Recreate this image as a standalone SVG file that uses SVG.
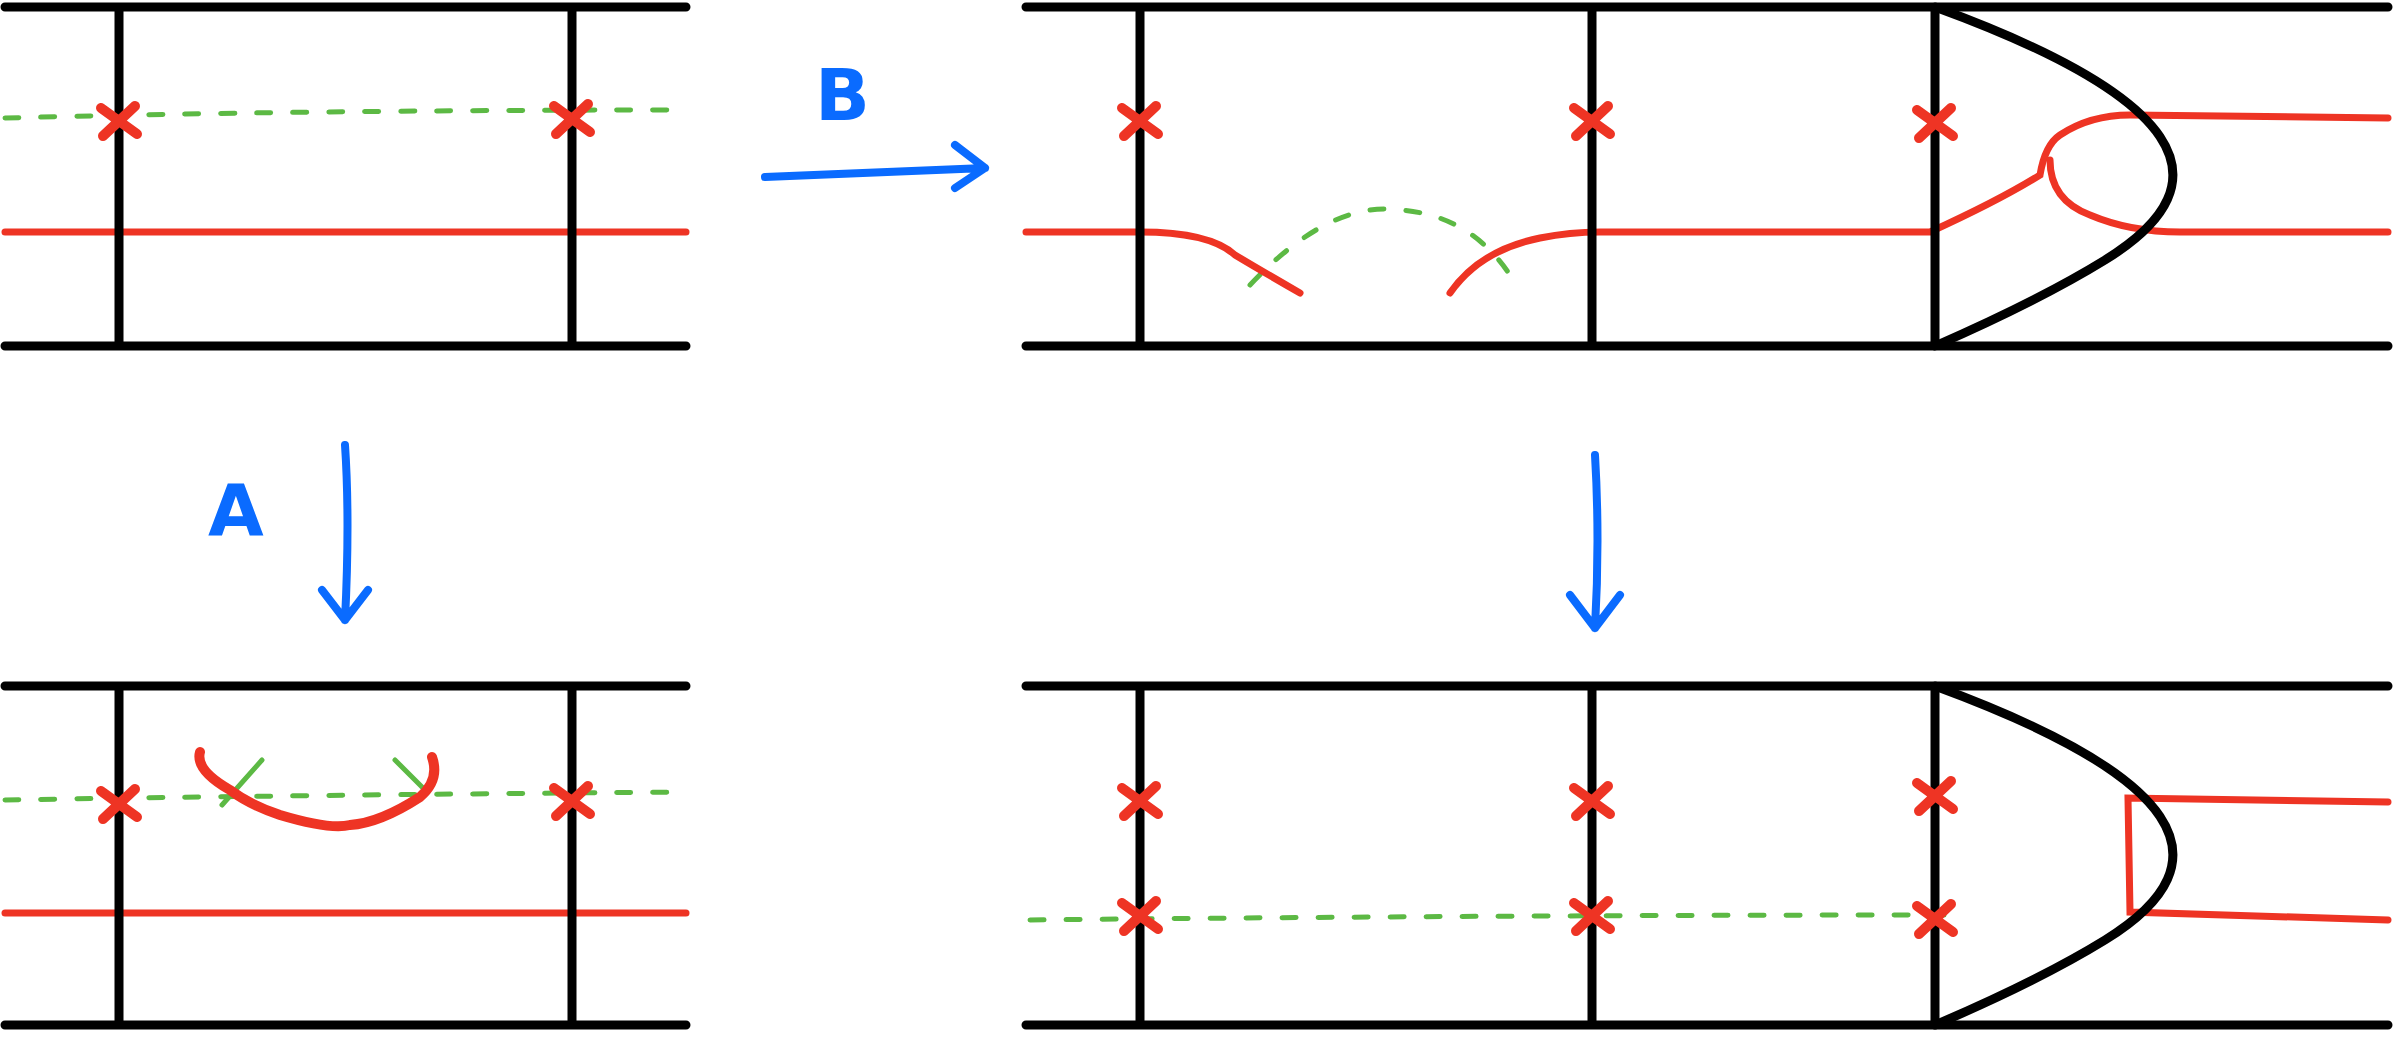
<svg xmlns="http://www.w3.org/2000/svg" width="2393" height="1059" viewBox="0 0 2393 1059">
<style>
.k{stroke:#000;stroke-width:9;stroke-linecap:round;fill:none}
.r{stroke:#ee3424;stroke-width:7;stroke-linecap:round;fill:none}
.rt{stroke:#ee3424;stroke-width:10;stroke-linecap:round;fill:none}
.g{stroke:#5cb944;stroke-width:5;stroke-linecap:round;stroke-dasharray:14 22;fill:none}
.b{stroke:#0a6bff;stroke-width:8;stroke-linecap:round;stroke-linejoin:round;fill:none}
.t{fill:#0a6bff;font-family:"Comic Sans MS","DejaVu Sans",sans-serif;font-weight:bold;font-size:72px}
</style>
<defs>
<g id="x"><path class="rt" d="M-18,-12 L18,14 M16,-14 L-16,16"/></g>
</defs>
<g id="panel-tl">
<path class="g" d="M5,118 Q300,110 686,110"/>
<path class="r" d="M5,232 H686"/>
<path class="k" d="M5,7 H686 M5,346 H686 M119,7 V346 M572,7 V346"/>
<use href="#x" x="119" y="120"/><use href="#x" x="572" y="118"/>
</g>
<g id="panel-tr">
<path class="g" d="M1250,285 Q1330,200 1400,210 Q1470,215 1510,275"/>
<path class="r" d="M1026,232 H1140 Q1210,232 1235,255 Q1260,270 1300,293"/>
<path class="r" d="M1450,293 Q1480,250 1540,238 Q1570,232 1600,232 H1930 Q2000,200 2040,175 Q2045,145 2060,135 Q2090,115 2130,115 L2388,118"/>
<path class="r" d="M2050,160 Q2050,200 2090,215 Q2130,232 2180,232 L2388,232"/>
<path class="k" d="M1026,7 H2388 M1026,346 H2388 M1140,7 V346 M1592,7 V346 M1935,7 V346"/>
<path class="k" d="M1935,7 Q2300,140 2105,260 Q2040,300 1935,346"/>
<use href="#x" x="1140" y="120"/><use href="#x" x="1592" y="120"/><use href="#x" x="1935" y="122"/>
</g>
<g id="panel-bl">
<path class="g" d="M5,800 Q300,795 686,792"/>
<path class="r" d="M5,913 H686"/>
<path class="r" d="M222,805 L262,760 M395,760 L425,790" style="stroke:#5cb944;stroke-width:5"/>
<path class="rt" d="M200,752 Q195,770 230,790 Q250,805 280,815 Q330,830 350,825 Q380,823 420,797 Q440,780 432,757"/>
<path class="k" d="M5,686 H686 M5,1025 H686 M119,686 V1025 M572,686 V1025"/>
<use href="#x" x="119" y="803"/><use href="#x" x="572" y="800"/>
</g>
<g id="panel-br">
<path class="g" d="M1030,920 Q1500,915 1960,915"/>
<path class="r" d="M2388,802 L2128,798 L2130,912 L2388,920"/>
<path class="k" d="M1026,686 H2388 M1026,1025 H2388 M1140,686 V1025 M1592,686 V1025 M1935,686 V1025"/>
<path class="k" d="M1935,686 Q2300,820 2105,940 Q2040,980 1935,1025"/>
<use href="#x" x="1140" y="800"/><use href="#x" x="1592" y="800"/><use href="#x" x="1935" y="795"/>
<use href="#x" x="1140" y="915"/><use href="#x" x="1592" y="915"/><use href="#x" x="1935" y="918"/>
</g>
<g id="connectors">
<path class="b" d="M765,177 Q880,172 985,168 M955,145 L985,168 L955,188"/>
<path class="b" d="M345,445 Q350,520 345,620 M322,590 L345,620 L368,590"/>
<path class="b" d="M1595,455 Q1600,540 1595,628 M1570,595 L1595,628 L1620,595"/>
<text class="t" x="815" y="120">B</text>
<text class="t" x="208" y="535">A</text>
</g>
</svg>
